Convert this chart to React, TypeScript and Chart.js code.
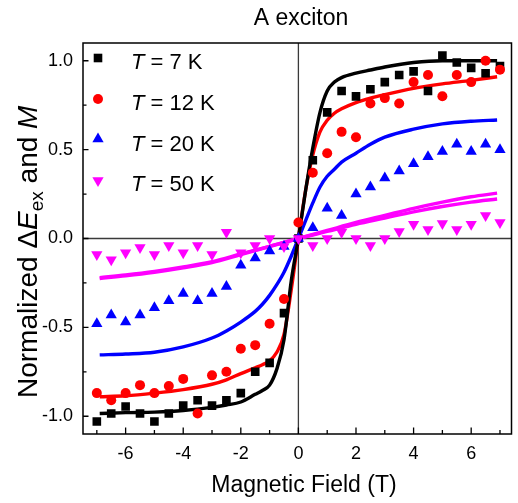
import React, { useEffect, useRef } from 'react';
import { Chart, registerables } from 'chart.js';
Chart.register(...registerables);

const FONT = '"Liberation Sans", Arial, Helvetica, sans-serif';

// Measured data (magnetic field in T)
const fieldT = [-7, -6.5, -6, -5.5, -5, -4.5, -4, -3.5, -3, -2.5, -2, -1.5, -1, -0.5, 0, 0.5, 1, 1.5, 2, 2.5, 3, 3.5, 4, 4.5, 5, 5.5, 6, 6.5, 7];
const data7K = [-1.03, -0.985, -0.945, -0.985, -1.03, -0.985, -0.94, -0.91, -0.94, -0.91, -0.87, -0.75, -0.7, -0.42, 0.0, 0.44, 0.71, 0.83, 0.8, 0.84, 0.88, 0.92, 0.94, 0.83, 1.03, 0.99, 0.96, 0.93, 0.97];
const data12K = [-0.87, -0.91, -0.87, -0.825, -0.87, -0.83, -0.79, -0.985, -0.77, -0.75, -0.62, -0.6, -0.48, -0.34, 0.09, 0.37, 0.48, 0.6, 0.57, 0.76, 0.79, 0.76, 0.88, 0.92, 0.8, 0.92, 0.88, 1.0, 0.95];
const data20K = [-0.48, -0.43, -0.47, -0.43, -0.39, -0.35, -0.31, -0.35, -0.31, -0.27, -0.15, -0.11, -0.07, -0.045, 0.0, 0.06, 0.17, 0.13, 0.25, 0.29, 0.34, 0.38, 0.42, 0.46, 0.49, 0.53, 0.49, 0.53, 0.5];
const data50K = [-0.09, -0.12, -0.08, -0.05, -0.09, -0.04, -0.08, -0.04, -0.09, 0.035, -0.08, -0.04, 0.0, -0.045, 0.0, -0.04, 0.0, 0.035, 0.0, -0.04, 0.0, 0.04, 0.08, 0.05, 0.085, 0.05, 0.08, 0.13, 0.09];

// Fit curves
const fitX = [-6.9, -6, -5, -4, -3, -2.5, -2, -1.5, -1.25, -1, -0.75, -0.5, -0.25, 0, 0.25, 0.5, 0.75, 1, 1.25, 1.5, 2, 2.5, 3, 4, 5, 6, 6.9];
const fit7K = [-0.985, -0.98, -0.977, -0.968, -0.95, -0.937, -0.92, -0.877, -0.855, -0.825, -0.735, -0.57, -0.24, 0, 0.27, 0.51, 0.71, 0.83, 0.88, 0.905, 0.93, 0.948, 0.965, 0.99, 1.0, 1.0, 1.0];
const fit12K = [-0.89, -0.885, -0.87, -0.85, -0.82, -0.795, -0.76, -0.727, -0.71, -0.688, -0.64, -0.54, -0.29, 0, 0.27, 0.47, 0.6, 0.665, 0.705, 0.73, 0.765, 0.79, 0.81, 0.845, 0.87, 0.89, 0.91];
const fit20K = [-0.655, -0.65, -0.64, -0.61, -0.56, -0.52, -0.47, -0.41, -0.37, -0.32, -0.26, -0.19, -0.1, 0, 0.1, 0.2, 0.29, 0.35, 0.39, 0.43, 0.48, 0.53, 0.57, 0.615, 0.645, 0.66, 0.667];
const fitXWide = [-6.9, -6, -5, -4, -3, -2, -1, 0, 1, 2, 3, 4, 5, 6, 6.9];
const fit50Ka = [-0.225, -0.21, -0.19, -0.165, -0.135, -0.09, -0.045, 0, 0.045, 0.09, 0.13, 0.17, 0.205, 0.235, 0.255];
const fit50Kb = [-0.22, -0.205, -0.185, -0.16, -0.13, -0.087, -0.044, 0, 0.04, 0.08, 0.115, 0.15, 0.18, 0.205, 0.222];

const legendLabels = [' = 7 K', ' = 12 K', ' = 20 K', ' = 50 K'];
const seriesColors = ['#000000', '#ff0000', '#0000ff', '#ff00ff'];
const titleText = 'A exciton';
const xTitle = 'Magnetic Field (T)';

const pts = (xs: number[], ys: number[]) => xs.map((v, i) => ({ x: v, y: ys[i] }));

function drawMarker(ctx: CanvasRenderingContext2D, kind: number, x: number, y: number, color: string) {
  ctx.fillStyle = color;
  ctx.beginPath();
  if (kind === 0) {
    ctx.rect(x - 4.3, y - 4.3, 8.6, 8.6);
  } else if (kind === 1) {
    ctx.arc(x, y, 5, 0, Math.PI * 2);
  } else {
    const r = 6.5;
    const s = kind === 2 ? 1 : -1;
    const dx = r * Math.sin((2 * Math.PI) / 3);
    ctx.moveTo(x, y - s * r);
    ctx.lineTo(x + dx, y + s * r / 2);
    ctx.lineTo(x - dx, y + s * r / 2);
    ctx.closePath();
  }
  ctx.fill();
}

const decor = {
  id: 'decor',
  beforeDatasetsDraw(chart: any) {
    const { ctx, chartArea: a, scales } = chart;
    const x0 = scales.x.getPixelForValue(0);
    const y0 = scales.y.getPixelForValue(0);
    ctx.save();
    ctx.strokeStyle = '#3a3a3a';
    ctx.lineWidth = 1.3;
    ctx.beginPath();
    ctx.moveTo(x0, a.top);
    ctx.lineTo(x0, a.bottom);
    ctx.moveTo(a.left, y0);
    ctx.lineTo(a.right, y0);
    ctx.stroke();
    ctx.restore();
  },
  afterDraw(chart: any) {
    const { ctx, chartArea: a, scales } = chart;
    ctx.save();
    // frame
    ctx.strokeStyle = '#000';
    ctx.lineWidth = 1.5;
    ctx.strokeRect(a.left, a.top, a.right - a.left, a.bottom - a.top);
    // inward ticks
    ctx.lineWidth = 1.3;
    ctx.beginPath();
    scales.x.ticks.forEach((t: any) => {
      const px = scales.x.getPixelForValue(t.value);
      const major = Math.abs(t.value % 2) < 1e-6;
      ctx.moveTo(px, a.bottom);
      ctx.lineTo(px, a.bottom - (major ? 6.5 : 4));
    });
    scales.y.ticks.forEach((t: any) => {
      const py = scales.y.getPixelForValue(t.value);
      const major = Math.abs(t.value * 2 - Math.round(t.value * 2)) < 1e-6;
      ctx.moveTo(a.left, py);
      ctx.lineTo(a.left + (major ? 5.5 : 3.5), py);
    });
    ctx.stroke();

    ctx.fillStyle = '#000';
    // title
    ctx.font = `23px ${FONT}`;
    ctx.textAlign = 'center';
    ctx.textBaseline = 'alphabetic';
    ctx.fillText(titleText, 301, 25);
    // x title
    ctx.fillText(xTitle, 304, 492);

    // y title (rotated, mixed styles)
    ctx.save();
    ctx.translate(37, 398);
    ctx.rotate(-Math.PI / 2);
    ctx.textAlign = 'left';
    const fs = 28;
    const parts = [
      { t: 'Normalized ', f: `${fs}px ${FONT}`, dy: 0 },
      { t: '\u0394', f: `${fs}px ${FONT}`, dy: 0 },
      { t: 'E', f: `italic ${fs}px ${FONT}`, dy: 0 },
      { t: 'ex', f: `${Math.round(fs * 0.68)}px ${FONT}`, dy: 6 },
      { t: ' and ', f: `${fs}px ${FONT}`, dy: 0 },
      { t: 'M', f: `italic ${fs}px ${FONT}`, dy: 0 },
    ];
    let cx = 0;
    parts.forEach((p) => {
      ctx.font = p.f;
      ctx.fillText(p.t, cx, p.dy);
      cx += ctx.measureText(p.t).width;
    });
    ctx.restore();

    // legend
    const rowsMarker = [58, 99, 139, 180.5];
    const rowsBase = [69, 110, 151, 191];
    rowsMarker.forEach((ym, i) => {
      drawMarker(ctx, i, 98, ym, seriesColors[i]);
      ctx.fillStyle = '#000';
      ctx.textAlign = 'left';
      ctx.font = `italic 22px ${FONT}`;
      ctx.fillText('T', 131, rowsBase[i]);
      const w = ctx.measureText('T').width;
      ctx.font = `22px ${FONT}`;
      ctx.fillText(legendLabels[i], 131 + w, rowsBase[i]);
    });
    ctx.restore();
  },
};

export default function App() {
  const ref = useRef<HTMLCanvasElement>(null);
  useEffect(() => {
    if (!ref.current) return;
    const lineDs = (xs: number[], ys: number[], color: string, order: number) => ({
      data: pts(xs, ys),
      showLine: true,
      borderColor: color,
      borderWidth: 3.4,
      pointRadius: 0,
      pointHoverRadius: 0,
      cubicInterpolationMode: 'monotone' as const,
      fill: false,
      order,
    });
    const markDs = (ys: number[], color: string, style: string, radius: number, rotation: number, order: number) => ({
      data: pts(fieldT, ys),
      showLine: false,
      pointStyle: style,
      pointRadius: radius,
      pointRotation: rotation,
      pointBackgroundColor: color,
      pointBorderWidth: 0,
      pointBorderColor: color,
      order,
    });
    const chart = new Chart(ref.current, {
      type: 'scatter',
      data: {
        datasets: [
          markDs(data50K, seriesColors[3], 'triangle', 6.5, 180, 0),
          markDs(data20K, seriesColors[2], 'triangle', 6.5, 0, 1),
          markDs(data12K, seriesColors[1], 'circle', 5, 0, 2),
          markDs(data7K, seriesColors[0], 'rect', 6.1, 0, 3),
          lineDs(fitX, fit7K, seriesColors[0], 10),
          lineDs(fitX, fit12K, seriesColors[1], 11),
          lineDs(fitX, fit20K, seriesColors[2], 12),
          lineDs(fitXWide, fit50Ka, seriesColors[3], 13),
          lineDs(fitXWide, fit50Kb, seriesColors[3], 14),
        ] as any,
      },
      options: {
        animation: false,
        responsive: false,
        devicePixelRatio: 1,
        layout: { padding: { top: 43, right: 1, left: 0, bottom: 0 } },
        plugins: { legend: { display: false }, title: { display: false }, tooltip: { enabled: false } },
        events: [],
        scales: {
          x: {
            type: 'linear',
            min: -7.48,
            max: 7.4,
            grid: { display: false, drawTicks: false },
            border: { display: false },
            afterFit: (s: any) => { s.height = 69; },
            ticks: {
              stepSize: 1,
              includeBounds: false,
              autoSkip: false,
              maxRotation: 0,
              padding: 9,
              color: '#000',
              font: { family: FONT, size: 18 },
              callback: (v: any) => (Math.abs(Number(v) % 2) < 1e-6 ? String(Math.round(Number(v))) : ''),
            },
          },
          y: {
            type: 'linear',
            min: -1.1,
            max: 1.1,
            grid: { display: false, drawTicks: false },
            border: { display: false },
            afterFit: (s: any) => { s.width = 83; },
            ticks: {
              stepSize: 0.25,
              includeBounds: false,
              autoSkip: false,
              padding: 10,
              color: '#000',
              font: { family: FONT, size: 18 },
              callback: (v: any) => {
                const n = Number(v);
                return Math.abs(n * 2 - Math.round(n * 2)) < 1e-6 ? (Math.abs(n) < 1e-9 ? 0 : n).toFixed(1) : '';
              },
            },
          },
        },
      } as any,
      plugins: [decor],
    });
    return () => chart.destroy();
  }, []);
  return (
    <div style={{ position: 'absolute', left: 0, top: 0, width: 518, height: 503, background: '#fff' }}>
      <canvas ref={ref} width={518} height={503} style={{ display: 'block', width: 518, height: 503 }} />
    </div>
  );
}
